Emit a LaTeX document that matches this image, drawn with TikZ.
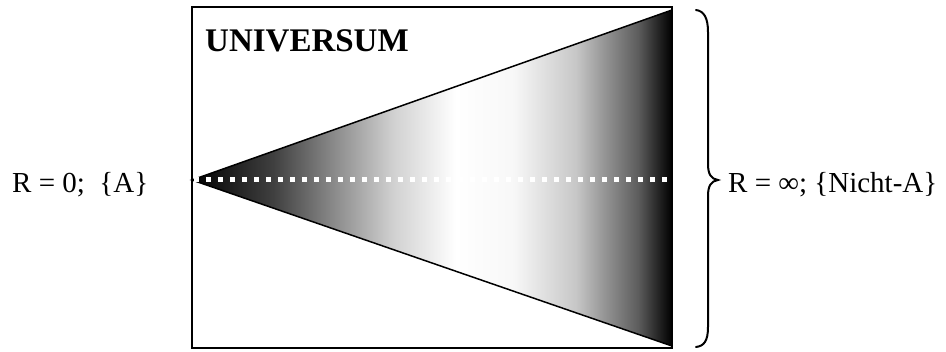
\documentclass[tikz,border=0pt]{standalone}
\usepackage{fontspec}
\setmainfont{Liberation Serif}
\pgfdeclarehorizontalshading{cone}{100bp}{color(0bp)=(black); color(25bp)=(black); color(33.5bp)=(black!75); color(39.5bp)=(black!47); color(46bp)=(black!18); color(52.5bp)=(white); color(58.5bp)=(black!3); color(65bp)=(black!22); color(68bp)=(black!42); color(71.5bp)=(black!64); color(73.5bp)=(black!85); color(75bp)=(black); color(100bp)=(black)}
\tikzset{
  lbl/.style={font=\fontsize{29}{34}\selectfont, inner sep=0pt, anchor=base west},
  frame/.style={line width=2pt},
  edge/.style={line width=1.5pt},
  dots/.style={white, line width=5pt, dash pattern=on 5pt off 7pt},
  bracestyle/.style={line width=2pt, line cap=round}
}
\begin{document}
\begin{tikzpicture}[x=1pt,y=-1pt]
\useasboundingbox (0,0) rectangle (946,352);
\coordinate (apex) at (192,180);
\coordinate (tr) at (672,10);
\coordinate (br) at (672,346);
\coordinate (mr) at (672,180);
\fill[shading=cone] (apex) -- (tr) -- (br) -- cycle;
\draw[edge] (tr) -- (apex) -- (br);
\draw[dots] ([xshift=2pt]apex) -- (mr);
\draw[frame] (192,7) rectangle (672,348);
\node[lbl, font=\fontsize{33}{39}\selectfont\bfseries] (univ) at (205,52) {UNIVERSUM};
\node[lbl] (left) at (12,193) {R = 0;\ \ \{A\}};
\node[lbl] (right) at (728,193) {R = ∞; \{Nicht-A\}};
\draw[bracestyle] (696,10) .. controls (704,11) and (708,18) .. (708,32) -- (708,164)
  .. controls (708,174) and (711,179) .. (718,180)
  .. controls (711,181) and (708,186) .. (708,196) -- (708,327)
  .. controls (708,341) and (704,346) .. (696,347);
\end{tikzpicture}
\end{document}
